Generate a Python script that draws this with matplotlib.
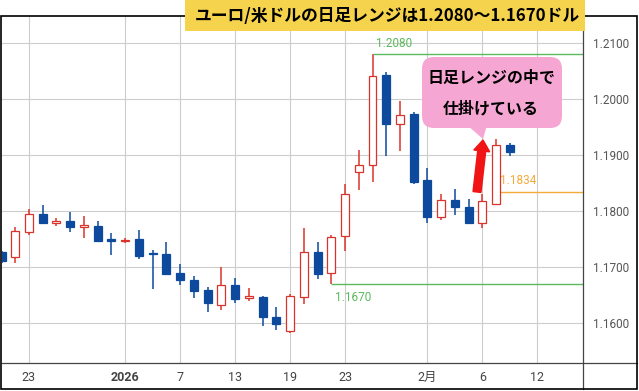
import matplotlib
matplotlib.use("Agg")
import matplotlib.pyplot as plt
from matplotlib.patches import Rectangle, FancyBboxPatch, Polygon, FancyArrow
from matplotlib.lines import Line2D

# daily candles, EUR/USD (weekdays from Dec 19)
dates = ["12/19", "12/22", "12/23", "12/24", "12/25", "12/26", "12/29", "12/30", "12/31",
         "1/1", "1/2", "1/5", "1/6", "1/7", "1/8", "1/9", "1/12", "1/13", "1/14", "1/15",
         "1/16", "1/19", "1/20", "1/21", "1/22", "1/23", "1/26", "1/27", "1/28", "1/29",
         "1/30", "2/2", "2/3", "2/4", "2/5", "2/6", "2/9", "2/10"]
opens = [1.1726, 1.1718, 1.1763, 1.1794, 1.1779, 1.1783, 1.1772, 1.1773, 1.1748,
         1.1746, 1.1750, 1.1725, 1.1723, 1.1689, 1.1677, 1.1659, 1.1632, 1.1667, 1.1645, 1.1646,
         1.1611, 1.1585, 1.1647, 1.1727, 1.1689, 1.1755, 1.1869, 1.1882, 1.2042, 1.1955,
         1.1973, 1.1855, 1.1790, 1.1819, 1.1808, 1.1779, 1.1813, 1.1918]
highs = [1.1728, 1.1771, 1.1803, 1.1810, 1.1787, 1.1798, 1.1791, 1.1782, 1.1761,
         1.1752, 1.1766, 1.1730, 1.1745, 1.1705, 1.1684, 1.1664, 1.1700, 1.1680, 1.1662, 1.1648,
         1.1629, 1.1652, 1.1770, 1.1745, 1.1758, 1.1848, 1.1909, 1.2080, 1.2049, 1.1997,
         1.1977, 1.1877, 1.1830, 1.1839, 1.1821, 1.1830, 1.1928, 1.1921]
lows = [1.1708, 1.1708, 1.1758, 1.1776, 1.1774, 1.1763, 1.1752, 1.1745, 1.1721,
        1.1742, 1.1714, 1.1661, 1.1686, 1.1667, 1.1645, 1.1620, 1.1623, 1.1636, 1.1639, 1.1595,
        1.1588, 1.1582, 1.1634, 1.1679, 1.1670, 1.1729, 1.1838, 1.1852, 1.1899, 1.1908,
        1.1849, 1.1778, 1.1784, 1.1793, 1.1778, 1.1769, 1.1811, 1.1899]
closes = [1.1710, 1.1764, 1.1794, 1.1779, 1.1783, 1.1772, 1.1773, 1.1746, 1.1747,
          1.1748, 1.1720, 1.1723, 1.1688, 1.1676, 1.1658, 1.1636, 1.1667, 1.1643, 1.1647, 1.1610,
          1.1599, 1.1648, 1.1727, 1.1688, 1.1754, 1.1830, 1.1882, 1.2041, 1.1955, 1.1971,
          1.1851, 1.1790, 1.1819, 1.1807, 1.1779, 1.1817, 1.1918, 1.1906]

tick_pos = [2, 9, 13, 17, 21, 25, 31, 35, 39]
tick_labels = ["23", "2026", "7", "13", "19", "23", "2月", "6", "12"]
price_ticks = [1.16, 1.17, 1.18, 1.19, 1.20, 1.21]

# horizontal levels: (value, start index, colour)
levels = [(1.2080, 27, "#5cb85c"), (1.1670, 24, "#5cb85c"), (1.1834, 36, "#f5a93a")]

RED = "#d9342b"
BLUE = "#0d4a9e"

fig = plt.figure(figsize=(6.39, 3.91), dpi=100)
ax = fig.add_axes([2 / 639, 28 / 391, 581 / 639, 347 / 391])
ax.set_xlim(0.035, 42.32)
ax.set_ylim(1.15286, 1.21482)

for i in range(len(dates)):
    o, h, l, c = opens[i], highs[i], lows[i], closes[i]
    up = c >= o
    col = RED if up else BLUE
    ax.vlines(i, l, h, color=col, lw=1.1, zorder=2)
    bot = min(o, c)
    hgt = max(abs(c - o), 0.00025)
    ax.bar(i, hgt, bottom=bot, width=0.58, facecolor="white" if up else BLUE,
           edgecolor=col, lw=0.9, zorder=3)

xmax = ax.get_xlim()[1]
for val, start, col in levels:
    ax.hlines(val, start, xmax, color=col, lw=1.0, zorder=2)
    dy = -10 if val == 1.1670 else 8
    ax.annotate("%.4f" % val, xy=(start, val), xytext=(2.5, dy), textcoords="offset points",
                ha="left", va="center", color=col, fontsize=8.5, family="Roboto")

ax.set_xticks(tick_pos)
ax.set_xticklabels(tick_labels, family=["Roboto", "Noto Sans CJK JP"], fontsize=9, color="#444444")
ax.get_xticklabels()[1].set_fontweight("bold")
ax.yaxis.tick_right()
ax.set_yticks(price_ticks)
ax.set_yticklabels(["%.4f" % p for p in price_ticks], family="Roboto", fontsize=8.5, color="#555555")
ax.tick_params(axis="both", length=0)
ax.tick_params(axis="x", pad=6)
ax.tick_params(axis="y", pad=7)
ax.grid(True, color="#cccccc", lw=0.8, zorder=0)
ax.set_axisbelow(True)
for s in ax.spines.values():
    s.set_visible(False)

tr = fig.dpi_scale_trans
# axis lines and outer frame
fig.add_artist(Line2D([5.83, 5.83], [0.02, 3.75], transform=tr, color="#444444", lw=0.9))
fig.add_artist(Line2D([0.02, 6.37], [0.28, 0.28], transform=tr, color="#444444", lw=0.9))
fig.add_artist(Rectangle((0.007, 0.02), 6.365, 3.73, transform=tr, fill=False,
                         edgecolor="black", lw=1.2, zorder=5))

# title box
fig.add_artist(Rectangle((1.85, 3.60), 4.0, 0.35, transform=tr, facecolor="#f6d34c",
                         edgecolor="none", zorder=6))
fig.text(3.87, 3.745, "ユーロ/米ドルの日足レンジは1.2080～1.1670ドル", transform=tr,
         ha="center", va="center", fontsize=12.1, fontweight="bold",
         family=["Noto Sans CJK JP", "DejaVu Sans"], color="black", zorder=7)

# callout
pink = "#f6a6d2"
fig.add_artist(FancyBboxPatch((4.22, 2.63), 1.40, 0.71, boxstyle="round,pad=0,rounding_size=0.12",
                              transform=tr, facecolor=pink, edgecolor="none", zorder=6))
fig.add_artist(Polygon([(4.67, 2.66), (4.87, 2.66), (4.83, 2.52)], closed=True, transform=tr,
                       facecolor=pink, edgecolor="none", zorder=6))
fig.text(4.91, 3.13, "日足レンジの中で", transform=tr, ha="center", va="center", fontsize=11.5,
         fontweight="bold", family=["Noto Sans CJK JP", "DejaVu Sans"], zorder=7)
fig.text(4.91, 2.83, "仕掛けている", transform=tr, ha="center", va="center", fontsize=11.5,
         fontweight="bold", family=["Noto Sans CJK JP", "DejaVu Sans"], zorder=7)

# red arrow
fig.add_artist(FancyArrow(4.77, 1.99, 0.06, 0.52, width=0.08, head_width=0.16, head_length=0.11,
                          length_includes_head=True, transform=tr, color="#f01414", zorder=6))

fig.savefig("out.png", dpi=100)
